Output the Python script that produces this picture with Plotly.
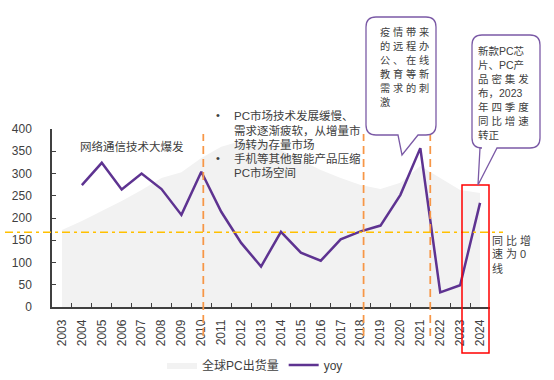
import plotly.graph_objects as go

# ---------------- data ----------------
years = [str(y) for y in range(2003, 2025)]
shipments = [173, 193, 216, 238, 263, 290, 303, 335, 360, 373, 369, 353,
             330, 308, 290, 274, 265, 279, 317, 290, 263, 256]
yoy_years = years[1:]
yoy = [274, 324, 264, 300, 265, 207, 304, 214, 144, 91, 169, 122,
       104, 152, 170, 183, 252, 357, 33, 49, 234]
zero_line_level = 168          # where yoy growth = 0
phase_breaks = [7.1, 15.15, 18.5]   # category positions of the dashed separators
y_ticks = list(range(0, 401, 50))

# ---------------- geometry helpers (pixel -> paper) ----------------
L, T, W, H = 52, 129, 438, 178


def px(x):
    return (x - L) / W


def py(y):
    return (T + H - y) / H


FONT = "Liberation Sans, Noto Sans CJK SC, sans-serif"
TXT = "#404040"

fig = go.Figure()
fig.add_trace(go.Scatter(
    x=years, y=shipments, mode="lines", fill="tozeroy",
    fillcolor="#F2F2F2", line=dict(width=0, color="#F2F2F2"),
    name="全球PC出货量"))
fig.add_trace(go.Scatter(
    x=yoy_years, y=yoy, mode="lines",
    line=dict(color="#5E3391", width=2.5), name="yoy"))

shapes = []
# dashed orange separators
for b in phase_breaks:
    shapes.append(dict(type="line", xref="x", yref="paper", x0=b, x1=b,
                       y0=py(336), y1=py(134),
                       line=dict(color="#F79646", width=1.75, dash="8px,5px")))
# yellow dash-dot zero-growth line
shapes.append(dict(type="line", xref="paper", yref="y", x0=px(5), x1=px(503),
                   y0=zero_line_level, y1=zero_line_level,
                   line=dict(color="#FFC000", width=1.5, dash="8px,4px,3px,4px")))
# red highlight box
shapes.append(dict(type="rect", xref="paper", yref="paper",
                   x0=px(462), x1=px(489), y0=py(353), y1=py(185),
                   line=dict(color="#FF0000", width=1.5), fillcolor="rgba(0,0,0,0)"))


def bubble(x0, y0, x1, y1, r, bx0, tipx, tipy, bx1):
    def P(x, y):
        return f"{px(x):.5f},{py(y):.5f}"
    d = (f"M{P(x0 + r, y0)} L{P(x1 - r, y0)} Q{P(x1, y0)} {P(x1, y0 + r)} "
         f"L{P(x1, y1 - r)} Q{P(x1, y1)} {P(x1 - r, y1)} L{P(bx1, y1)} "
         f"L{P(tipx, tipy)} L{P(bx0, y1)} L{P(x0 + r, y1)} "
         f"Q{P(x0, y1)} {P(x0, y1 - r)} L{P(x0, y0 + r)} Q{P(x0, y0)} {P(x0 + r, y0)} Z")
    return dict(type="path", xref="paper", yref="paper", path=d,
                line=dict(color="#7B5AA6", width=1.3), fillcolor="white")


shapes.append(bubble(366, 17, 436, 135, 10, 398, 402, 155, 418))
shapes.append(bubble(472, 35, 540, 148, 10, 480, 478, 185, 497))

ann = []


def text(x, y, s, size=11.5, anchor="left"):
    ann.append(dict(xref="paper", yref="paper", x=px(x), y=py(y), text=s,
                    showarrow=False, xanchor=anchor, yanchor="middle",
                    font=dict(family=FONT, size=size, color=TXT)))


text(78, 146, "网络通信技术大爆发", 11.5)
text(214, 115, "•", 11)
text(232, 116, "PC市场技术发展缓慢、", 11.5)
text(232, 130, "需求逐渐疲软，从增量市", 11.5)
text(232, 144, "场转为存量市场", 11.5)
text(214, 158, "•", 11)
text(232, 158, "手机等其他智能产品压缩", 11.5)
text(232, 172, "PC市场空间", 11.5)

rows1 = ["疫 情 带 来", "的 远 程 办", "公 、 在 线", "教 育 等 新", "需 求 的 刺", "激"]
for i, s in enumerate(rows1):
    text(378, 32 + 14 * i, s, 10.2)

rows2 = ["新款PC芯", "片、PC产", "品 密 集 发", "布，2023", "年 四 季 度", "同 比 增 速", "转正"]
for i, s in enumerate(rows2):
    text(476, 51 + 14 * i, s, 10.5)

for i, s in enumerate(["同 比 增", "速 为 0", "线"]):
    text(490, 240 + 14 * i, s, 11)

fig.update_layout(
    width=554, height=380, autosize=False,
    margin=dict(l=L, r=554 - L - W, t=T, b=380 - T - H, pad=0, autoexpand=False),
    paper_bgcolor="white", plot_bgcolor="white",
    shapes=shapes, annotations=ann,
    font=dict(family=FONT, color=TXT, size=12),
    showlegend=True,
    legend=dict(orientation="h", x=px(162), y=py(365), xanchor="left",
                yanchor="middle", font=dict(family=FONT, size=12, color=TXT),
                bgcolor="rgba(0,0,0,0)", itemwidth=30),
    xaxis=dict(type="category", range=[-0.5, 21.5], showline=True,
               linecolor=TXT, linewidth=1.5, ticks="inside", tickson="boundaries",
               ticklen=4, tickcolor=TXT, tickangle=-90, showgrid=False,
               zeroline=False, tickfont=dict(size=12, color=TXT),
               ticklabelstandoff=6, automargin=False),
    yaxis=dict(range=[0, 400], tickvals=y_ticks, showline=True, linecolor=TXT,
               linewidth=1.5, ticks="inside", ticklen=4, tickcolor=TXT,
               showgrid=False, zeroline=False, tickfont=dict(size=12, color=TXT),
               ticklabelstandoff=16, automargin=False),
)

fig.write_html("out.html", config={"displayModeBar": False},
               post_script="document.body.style.margin='0';document.body.style.padding='0';")
